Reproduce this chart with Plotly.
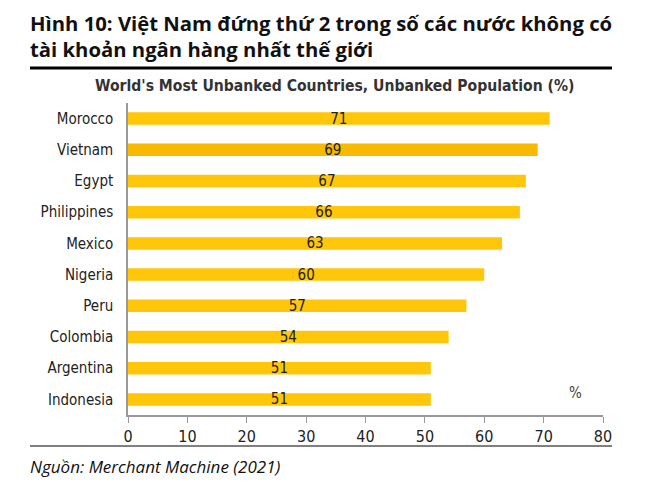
import plotly.graph_objects as go

countries = ["Morocco", "Vietnam", "Egypt", "Philippines", "Mexico", "Nigeria", "Peru", "Colombia", "Argentina", "Indonesia"]
values = [71, 69, 67, 66, 63, 60, 57, 54, 51, 51]
x_ticks = [0, 10, 20, 30, 40, 50, 60, 70, 80]

OFF = 8  # browser body margin
W, H = 671 - OFF, 481 - OFF
L, R, T, B = 128 - OFF, 68, 103 - OFF, 66
PW = W - L - R
PH = H - T - B

def px(x):
    return (x - OFF - L) / PW

def py(y):
    return (H - B - (y - OFF)) / PH

colors = ["#F7BA00" if c == "Vietnam" else "#FFC60A" for c in countries]

fig = go.Figure(go.Bar(
    y=countries, x=values, orientation="h",
    marker=dict(color=colors, line=dict(width=0)),
    text=[str(v) for v in values], textposition="inside", insidetextanchor="middle",
    textangle=0, constraintext="none", cliponaxis=False,
    textfont=dict(family="DejaVu Sans Condensed", size=15, color="#222222"),
    width=0.4,
))

fig.update_layout(
    width=W, height=H,
    margin=dict(l=L, r=R, t=T, b=B),
    paper_bgcolor="white", plot_bgcolor="white",
    showlegend=False,
    xaxis=dict(range=[0, 80], tickvals=x_ticks, showgrid=False, zeroline=False,
               showline=True, linecolor="#999999", linewidth=1.5,
               ticks="outside", ticklen=6, tickcolor="#999999",
               tickfont=dict(family="DejaVu Sans Condensed", size=16, color="#222222")),
    yaxis=dict(categoryorder="array", categoryarray=countries[::-1],
               showgrid=False, zeroline=False, showline=True, linecolor="#999999", linewidth=1.5,
               ticks="", ticklabelstandoff=10,
               tickfont=dict(family="DejaVu Sans Condensed", size=15, color="#222222")),
    annotations=[
        dict(text="Hình 10: Việt Nam đứng thứ 2 trong số các nước không có<br>tài khoản ngân hàng nhất thế giới",
             xref="paper", yref="paper", x=px(28), y=py(7), xanchor="left", yanchor="top",
             align="left", showarrow=False,
             font=dict(family="Open Sans", size=20.3, color="#111111", weight="bold")),
        dict(text="World's Most Unbanked Countries, Unbanked Population (%)",
             xref="paper", yref="paper", x=px(334), y=py(86), xanchor="center", yanchor="middle",
             showarrow=False, font=dict(family="DejaVu Sans Condensed", size=15.6, color="#333333", weight="bold")),
        dict(text="%", xref="paper", yref="paper", x=px(575), y=py(393), xanchor="center", yanchor="middle",
             showarrow=False, font=dict(family="DejaVu Sans Condensed", size=15, color="#444444")),
        dict(text="<i>Nguồn: Merchant Machine (2021)</i>", xref="paper", yref="paper",
             x=px(28), y=py(466), xanchor="left", yanchor="middle", showarrow=False,
             font=dict(family="Open Sans", size=17, color="#111111")),
    ],
    shapes=[
        dict(type="line", xref="paper", yref="paper", x0=px(30), x1=px(612), y0=py(68), y1=py(68),
             line=dict(color="#000000", width=3)),
        dict(type="line", xref="paper", yref="paper", x0=px(30), x1=px(612), y0=py(446), y1=py(446),
             line=dict(color="#000000", width=1)),
    ],
)

fig.write_html("out.html")
